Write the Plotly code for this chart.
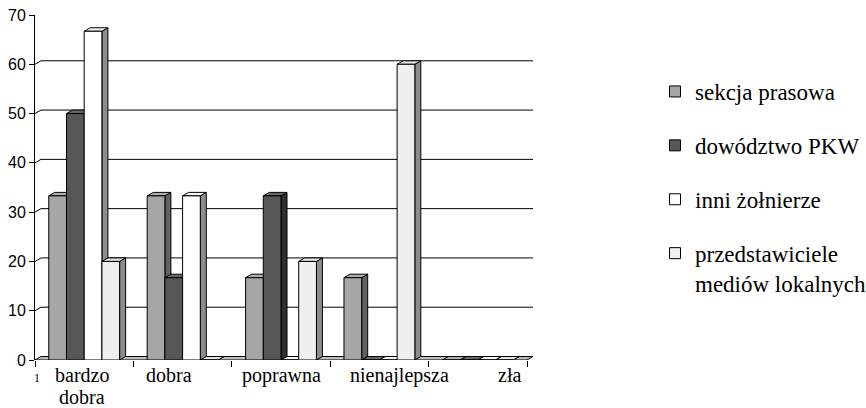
import plotly.graph_objects as go

# ---- data -------------------------------------------------------------
categories = ["bardzo<br>dobra", "dobra", "poprawna", "nienajlepsza", "zła"]
series_names = ["sekcja prasowa", "dowództwo PKW", "inni żołnierze",
                "przedstawiciele<br>mediów lokalnych"]
sekcja_prasowa = [33.3, 33.3, 16.7, 16.7, 0.0]
dowodztwo_pkw = [50.0, 16.7, 33.3, 0.0, 0.0]
inni_zolnierze = [66.7, 33.3, 0.0, 0.0, 0.0]
media_lokalne = [20.0, 0.0, 20.0, 60.0, 0.0]
y_ticks = [0, 10, 20, 30, 40, 50, 60, 70]

series_values = [sekcja_prasowa, dowodztwo_pkw, inni_zolnierze, media_lokalne]

# ---- styling ----------------------------------------------------------
front_colors = ["#a6a6a6", "#575757", "#ffffff", "#efefef"]
top_colors = ["#b0b0b0", "#666666", "#f4f4f4", "#e4e4e4"]
side_colors = ["#616161", "#2e2e2e", "#8c8c8c", "#8c8c8c"]
label_dx = [-2, -14, 0, 20, 32]      # horizontal nudge of category labels (px)
label_line_px = 22                   # line spacing of wrapped category labels

W, H = 866, 408
M_L, M_R, M_T, M_B = 35, 333, 15, 48
Y_MAX = 70
depth_px_x, depth_px_y = 6, 3.5
bar_w = 0.18

plot_w = W - M_L - M_R
plot_h = H - M_T - M_B
n_cat = len(categories)
x_lo = -0.5
units_per_px_x = (n_cat + 0.0) / (plot_w - depth_px_x)
dxu = depth_px_x * units_per_px_x
dyu = depth_px_y * Y_MAX / plot_h
x_hi = n_cat - 0.5 + dxu

SERIF = "Liberation Serif, Times New Roman, serif"
SANS = "Liberation Sans, Arial, sans-serif"

fig = go.Figure()

# legend entries
for name, col in zip(series_names, front_colors):
    fig.add_trace(go.Scatter(
        x=[None], y=[None], mode="markers", name=name, legendgroup=name,
        marker=dict(symbol="square", size=11, color=col,
                    line=dict(color="black", width=1)),
    ))


def poly(xs, ys, color):
    fig.add_trace(go.Scatter(
        x=list(xs) + [xs[0]], y=list(ys) + [ys[0]], mode="lines",
        fill="toself", fillcolor=color,
        line=dict(color="black", width=1),
        hoverinfo="skip", showlegend=False,
    ))


# back-wall gridlines with the short diagonal from each axis tick
gx, gy = [], []
for v in y_ticks[1:-1]:
    gx += [x_lo, x_lo + dxu, x_hi, None]
    gy += [v, v + dyu, v + dyu, None]
fig.add_trace(go.Scatter(x=gx, y=gy, mode="lines",
                         line=dict(color="black", width=1),
                         hoverinfo="skip", showlegend=False))

# floor
poly([x_lo, n_cat - 0.5, x_hi, x_lo + dxu], [0, 0, dyu, dyu], "#bdbdbd")

# 3-D columns: side, top and front face of each bar, left to right
n_ser = len(series_values)
for i in range(n_cat):
    for s in range(n_ser):
        h = series_values[s][i]
        L = i + (s - n_ser / 2) * bar_w
        R = L + bar_w
        poly([R, R + dxu, R + dxu, R], [0, dyu, h + dyu, h], side_colors[s])
        poly([L, L + dxu, R + dxu, R], [h, h + dyu, h + dyu, h], top_colors[s])
        poly([L, R, R, L], [0, 0, h, h], front_colors[s])

# category labels (wrapped lines set one under another)
for i, (lab, sh) in enumerate(zip(categories, label_dx)):
    for k, line in enumerate(lab.split("<br>")):
        fig.add_annotation(x=i, y=0, xref="x", yref="paper", text=line,
                           showarrow=False, yanchor="top",
                           yshift=-2 - k * label_line_px, xshift=sh,
                           font=dict(family=SERIF, size=20, color="black"))
fig.add_annotation(x=x_lo, y=0, xref="x", yref="paper", text="1",
                   showarrow=False, yanchor="top", yshift=-9, xshift=2,
                   font=dict(family=SERIF, size=12, color="black"))

fig.update_layout(
    width=W, height=H,
    margin=dict(l=M_L, r=M_R, t=M_T, b=M_B, pad=0, autoexpand=False),
    paper_bgcolor="white", plot_bgcolor="white",
    showlegend=True,
    legend=dict(x=(655 - M_L) / plot_w, xanchor="left",
                y=(H - M_B - 70) / plot_h, yanchor="top",
                font=dict(family=SERIF, size=23, color="black"),
                traceorder="grouped", tracegroupgap=21, valign="top",
                bgcolor="rgba(0,0,0,0)"),
    xaxis=dict(range=[x_lo, x_hi], showgrid=False, zeroline=False,
               showline=False, tickmode="array",
               tickvals=[k - 0.5 for k in range(n_cat + 1)],
               ticktext=[""] * (n_cat + 1),
               ticks="outside", ticklen=6, tickcolor="black", tickwidth=1),
    yaxis=dict(range=[0, Y_MAX], showgrid=False, zeroline=False,
               showline=True, linecolor="black", linewidth=1,
               tickmode="array", tickvals=y_ticks,
               ticks="outside", ticklen=5, tickcolor="black",
               tickfont=dict(family=SANS, size=16, color="black")),
)

fig.write_html("out.html")
